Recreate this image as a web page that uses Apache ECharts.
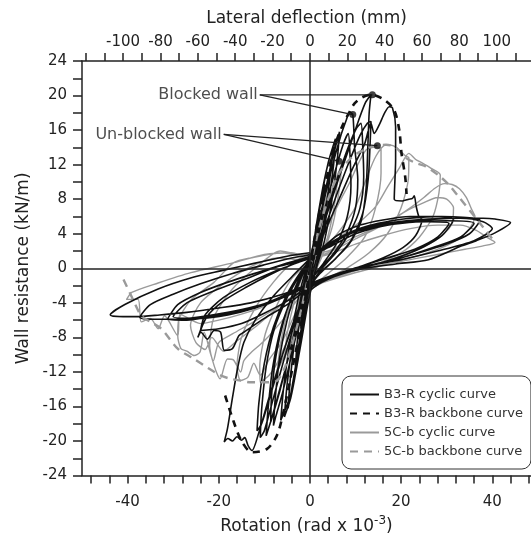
<!DOCTYPE html>
<html><head><meta charset="utf-8">
<script src="https://cdn.jsdelivr.net/npm/echarts@6/dist/echarts.min.js"></script>
<style>html,body{margin:0;padding:0;background:#fff}#c{width:531px;height:540px}</style>
</head><body><div id="c"></div>
<script>
// ---- tick values ----
const rotTicks = [-48,-44,-40,-36,-32,-28,-24,-20,-16,-12,-8,-4,0,4,8,12,16,20,24,28,32,36,40,44,48];
const rotLabels = [-40,-20,0,20,40];
const mmTicks = [-120,-110,-100,-90,-80,-70,-60,-50,-40,-30,-20,-10,0,10,20,30,40,50,60,70,80,90,100,110];
const mmLabels = [-100,-80,-60,-40,-20,0,20,40,60,80,100];
const resTicks = [-24,-22,-20,-18,-16,-14,-12,-10,-8,-6,-4,-2,0,2,4,6,8,10,12,14,16,18,20,22,24];
const resLabels = [-24,-20,-16,-12,-8,-4,0,4,8,12,16,20,24];

// ---- B3-R cyclic curve (rotation x1e-3 rad, kN/m) ----
const b3rCyclic = [
[0,0],[1,3.2],[2,6.5],[1.6,4.4],[0.8,1.6],[0,-0.8],[-1,-3.6],[-2,-7],[-1.6,-4.8],[-0.8,-1.8],[0,0.6],
[1,3.6],[2.5,8],[3.2,9.8],[2.7,7],[1.8,3.5],[0.6,0.2],[-0.8,-3.4],[-2.2,-8],[-3.2,-11.6],[-2.8,-8.6],[-1.8,-4.2],[-0.6,-0.6],[0.4,1.6],
[1.6,5.6],[3,9.8],[4.2,12.6],[5,14],[4.5,11],[3.4,6.6],[2,2.4],[0.6,-0.6],[-1,-4.6],[-2.6,-9.6],[-4,-14],[-4.8,-16.2],[-4.3,-12.8],[-3.2,-7.8],[-1.8,-3.2],[-0.4,0.4],
[1,3.2],[2.6,8.4],[4,12.2],[5.6,15],[5.2,12],[4,7.4],[2.6,3],[1,-0.6],[-0.8,-5],[-2.6,-10.6],[-4.2,-15],[-5.6,-17.2],[-5,-13.4],[-3.6,-8],[-2,-3.4],[-0.4,0.2],
[1.2,3],[3,8],[4.8,12.4],[6.5,15.8],[6,12.6],[4.8,7.8],[3.2,3.2],[1.4,0],[-0.4,-4],[-2.2,-9.4],[-4.2,-14.6],[-6.4,-17.6],[-5.8,-14],[-4.4,-8.6],[-2.6,-3.6],[-0.8,0],
[1.4,3.4],[3,7.6],[5,12],[6.8,15.4],[8,17.2],[8.7,18.1],[9.4,17.8],[9.8,14.1],[10.5,10.3],[10,7],[8,4],[5,1.6],[2,-0.2],[0,-1.6],[-2,-5.4],[-4,-10],[-6,-14.4],[-7.4,-17],[-8,-18.2],[-7.6,-15],[-6.6,-10.2],[-5,-6],[-3,-2.6],[-1,0],
[1.2,2.6],[3.2,6.8],[5.4,11],[7.2,14.2],[8.4,15.6],[8.8,13],[9,9.6],[8.2,6],[6,3],[3,0.6],[0.4,-1.2],[-2,-4.6],[-4.4,-9.6],[-6.6,-14.2],[-8.6,-17.8],[-8.4,-14.6],[-7.4,-10],[-5.6,-5.8],[-3.2,-2.2],[-1,0.2],
[1.6,2.6],[3.6,6.4],[6,10.4],[8.4,14],[10.2,16.2],[11.2,16.8],[11.6,14],[11.8,10.6],[11,7],[9,4.4],[6,2],[3,0.2],[0.6,-1.6],[-1.6,-4.4],[-4,-9],[-6.4,-13.6],[-8.4,-17.4],[-9.6,-19.4],[-9.2,-16.4],[-8.2,-11.6],[-6.4,-7],[-4,-3.4],[-1.4,-0.4],
[1,1.8],[3.2,5.4],[5.8,9.6],[8.4,13.6],[10.6,17],[12.2,19.2],[13.4,20.1],[13,18],[12.7,14],[12.3,9.1],[11.2,5.4],[8.6,2.8],[5,0.8],[2,-0.6],[-0.4,-2.2],[-3,-5.8],[-5.6,-10.4],[-8,-15],[-10,-18.8],[-10.9,-19.6],[-10.6,-16.4],[-9.6,-11.4],[-7.8,-7],[-5,-3.4],[-2,-0.6],
[1.4,2],[3.6,5.2],[6.2,9],[8.8,12.6],[11,15.4],[12.6,16.8],[13.4,17],[13.2,14.4],[12.8,10.4],[11.6,6.4],[9,3.2],[5.4,1],[2.2,-0.6],[-0.4,-2.4],[-3.2,-5.6],[-6,-10],[-8.6,-14.6],[-10.6,-18],[-11.6,-18.8],[-11.2,-15.6],[-10,-11],[-8,-6.8],[-5.2,-3.2],[-2,-0.4],
[1,1.6],[3.4,4.4],[6.4,8],[9.4,11.6],[12,14.4],[13.4,16.8],[14.1,15.6],[15.2,16.6],[16.4,18],[17.4,18.7],[18.1,18.6],[18.8,16.4],[18.8,12.6],[18.5,8.0],[20.3,7.8],[21.7,8.0],[22.5,8.1],[22.9,8.4],[23.3,7.2],[23.9,6.0],[24.6,5.65],[23.2,3.8],[20.4,2.4],[16,1.2],[11,0.2],[6,-0.8],[2,-1.8],[-1,-3.2],[-3.6,-6.4],[-6.4,-10.6],[-9,-15],[-11.2,-19],[-12.7,-21.1],[-13.5,-20.6],[-14.3,-19.6],[-15,-19.9],[-16,-19.5],[-17,-20],[-18,-19.7],[-18.8,-20.1],[-18.1,-18.6],[-17,-15],[-15.8,-11.4],[-14.5,-8.6],[-12,-6],[-8,-3.2],[-4,-1],[-1,0.6],
[2,2],[6,3.8],[11,5],[16,5.6],[22,6],[27,6],[31.5,5.65],[29,3.8],[25,2.5],[20,1.4],[14,0.4],[8,-0.4],[3,-1.4],[-1,-2.6],[-5,-4.2],[-10,-5.8],[-14.5,-7.4],[-15.6,-7.8],[-17,-9.3],[-18.8,-9.5],[-19.6,-7.4],[-21,-7.2],[-22.5,-8.2],[-23.9,-7.4],[-24.6,-8.0],[-22.6,-5.6],[-19,-3.8],[-14,-2.2],[-9,-0.8],[-4,0.4],[0,1.2],
[3,2.2],[8,3.8],[14,4.8],[20,5.3],[26,5.4],[30.5,5.2],[28,3.6],[23,2.2],[17,1.2],[11,0.2],[5,-0.8],[0,-2],[-5,-3.8],[-10,-5.2],[-15,-6.4],[-20,-7],[-24,-7.2],[-23,-5.4],[-19,-3.4],[-13,-1.6],[-7,-0.2],[-2,0.8],
[4,2.6],[9,4.2],[15,5.2],[22,5.8],[29,6],[33.5,5.9],[37.3,5.6],[35,4],[30,2.8],[24,1.8],[17,0.8],[10,0],[4,-1],[0,-1.8],[-5,-3],[-10,-4.1],[-16,-5],[-22,-5.6],[-27,-6],[-31.2,-5.9],[-29,-4.2],[-24,-2.8],[-18,-1.6],[-11,-0.4],[-5,0.6],[0,1.4],
[4,2.4],[10,4],[17,5],[24,5.4],[30,5.5],[36,5.2],[33,3.6],[27,2.4],[20,1.2],[12,0.2],[5,-0.8],[0,-1.8],[-6,-3.4],[-12,-4.6],[-18,-5.4],[-24,-5.8],[-30,-5.6],[-27,-4],[-21,-2.6],[-14,-1.2],[-7,0.2],[0,1.2],
[4,2.8],[10,4.4],[17,5.2],[25,5.6],[32,5.8],[38,5.8],[40.6,5.7],[44,5.3],[40.6,4.1],[36.5,3.2],[33.3,2.6],[26,1.0],[18.8,0.5],[12,0],[6,-0.8],[0,-2],[-6,-3.4],[-12,-4.4],[-18,-5.1],[-24,-5.6],[-30,-5.9],[-34,-5.9],[-37.3,-5.7],[-35,-4.2],[-30,-3],[-24,-1.8],[-17,-0.6],[-10,0.4],[-4,1.2],[0,1.6],
[5,3],[11,4.6],[18,5.3],[26,5.7],[33,5.8],[38,5.4],[40,4.6],[36,3.2],[28,2],[20,1],[12,0.2],[5,-1],[0,-1.8],[-6,-3],[-13,-4],[-20,-4.6],[-27,-5.1],[-33,-5.4],[-38,-5.6],[-41,-5.6],[-43.8,-5.4],[-40.6,-4.2],[-33.3,-2.4],[-26,-1.1],[-19.6,-0.3],[-12,0.6],[-5,1.4],[0,1.8]
];
const b3rBackbonePos = [[0,0],[1,3.4],[2.5,7.6],[4,11.2],[5.6,14.4],[7.2,16.6],[8.7,18.1],[9.8,19.1],[11.5,19.8],[13.4,20.1],[16.3,19.5],[18.5,18.3],[19.6,16.0],[20.1,13.3],[20.9,10.6],[21.2,8.6]];
const b3rBackboneNeg = [[0,0],[-2,-6.6],[-4,-12],[-5.8,-16.6],[-7.2,-19.3],[-9.4,-20.9],[-12.7,-21.3],[-15,-20],[-16.7,-17.8],[-18.8,-14.4]];

// ---- 5C-b cyclic curve ----
const c5bCyclic = [
[0,0],[1,2.6],[2,5],[1.5,3.2],[0.6,0.6],[-0.6,-2],[-1.6,-4.6],[-2.2,-6],[-1.6,-3.6],[-0.6,-0.8],[0.4,1],
[1.4,3.6],[3,7],[4,8.8],[3.4,6],[2.2,2.4],[0.6,-0.4],[-1,-3],[-2.6,-6.8],[-4,-9.6],[-3.4,-6.8],[-2,-2.8],[-0.4,0.2],
[1.2,2.4],[3,5.8],[5,8.8],[6,10],[5.4,7.4],[4,3.8],[2,0.8],[0,-1.2],[-2,-4.4],[-4,-8],[-5.6,-10.6],[-5,-7.6],[-3.4,-3.8],[-1.4,-0.6],[0,0.6],
[1.6,3.2],[3.6,7],[5.6,10.2],[7,12],[6.4,9],[5,5],[3,1.8],[1,-0.6],[-1.2,-3.4],[-3.6,-7.4],[-6,-10.6],[-7.2,-12],[-6.4,-8.6],[-4.6,-4.6],[-2,-1],[0,0.5],
[2,2.6],[4.4,5.4],[6.8,8],[8.7,9.9],[10.5,12],[12.3,13.7],[14,14],[15.6,13.9],[15.6,11],[14.4,7],[12,3.6],[8,1.2],[4,-0.6],[1,-2],[-2,-4.4],[-5,-8.4],[-7.4,-11.2],[-9,-12.4],[-10.9,-13.2],[-11,-11.4],[-9.8,-7.6],[-7,-4],[-4,-1.2],[-1,0.4],
[0,1.2],[3,2.2],[6,4],[8.5,5.8],[10.1,7.2],[12.4,10.4],[14.5,13],[16.7,14.3],[18.2,14.2],[19.6,13.7],[21,13],[21.7,12.8],[21.6,10.4],[20,7],[17,4],[13,1.8],[8,0],[3,-1.4],[0,-2.4],[-3,-5],[-6,-8.4],[-9,-10.6],[-10.9,-12.4],[-12.3,-11],[-13.6,-12.6],[-15.2,-13],[-16,-11.4],[-15,-8],[-12,-4.6],[-8,-1.6],[-4,0.6],[-1,1.4],
[3,2.2],[7,3.8],[11,5.4],[14.5,7.2],[17,9.4],[19.6,11.6],[21.7,13.3],[23.2,12.6],[24.6,12.2],[26.5,11.6],[28.6,10.8],[28.3,8.7],[27,6],[24,3.6],[20,1.8],[14,0.4],[8,-0.6],[3,-1.6],[-2,-3.2],[-6,-6],[-10,-8.4],[-13,-9.8],[-14.5,-10.7],[-15.2,-12],[-16.8,-10.6],[-18.1,-10.5],[-19.7,-12.8],[-21,-11.3],[-22,-9],[-21,-5.6],[-17,-2.4],[-12,0],[-6.5,2.0],[-2,1.6],
[4,2],[9,3.4],[14,4.6],[18,5.6],[22,7],[25,8.2],[27.5,9.3],[29.5,9.8],[31.2,9.7],[32.8,9.2],[34.3,8.2],[35.5,6.8],[36.2,6.0],[35,4.6],[32,3.2],[28,2.2],[22,1.2],[15,0.2],[8,-0.8],[2,-1.8],[-3,-3],[-8,-4.8],[-13,-6.4],[-17,-7.6],[-20,-8.6],[-21.2,-10.7],[-23.2,-7.4],[-24.1,-9.7],[-25.4,-10.1],[-27,-9.6],[-28.3,-9.3],[-29,-7.8],[-28.8,-6],[-26,-3.6],[-21,-1.6],[-16.7,0.65],[-13,1.2],[-6,1.8],[0,1.2],
[4,1.8],[10,3.4],[16,5],[21,6.6],[25,7.6],[28,8.2],[30,8],[31.5,7],[31,5],[28,3.4],[22,1.8],[15,0.6],[8,-0.6],[2,-1.6],[-3,-3],[-8,-5],[-12,-6.8],[-16,-8.4],[-19,-9.6],[-21.5,-8],[-23,-9.4],[-25,-8.6],[-26.2,-6.6],[-24,-4],[-19,-1.8],[-13,0.2],[-7,1.2],[-2,1],
[4,1.6],[10,2.8],[16,3.8],[22,4.6],[28,5],[33,5],[36.5,4.4],[38.8,3.6],[40.6,3.0],[38,2.6],[34,2.2],[28,1.6],[20,0.8],[12,0],[6,-0.8],[0,-2],[-5,-3],[-10,-4.4],[-15,-5.3],[-20,-6],[-24,-6.4],[-28.5,-5.3],[-29,-7.8],[-31.9,-5.5],[-33.3,-7.0],[-35,-5.8],[-37,-6.2],[-37.7,-3.6],[-40.2,-3.6],[-39.1,-2.8],[-33.3,-1.7],[-26.1,-0.5],[-16.7,0.65],[-10,1.6],[-4,1.8],[0,1]
];
const c5bBackbonePos = [[0,0],[2,4.6],[4,8],[6,10.6],[8,12.2],[10,13.2],[12.3,13.8],[14.5,14.2],[16.7,14.3],[18.8,14.0],[21,12.8],[23.2,12.2],[25.4,11.8],[28.6,10.6],[30.6,9.6],[32.6,8.3],[35.5,6.4],[38.4,4.5],[40.6,3.0]];
const c5bBackboneNeg = [[0,0],[-2,-5],[-4,-9],[-5.6,-11.6],[-7.2,-13],[-9,-13.2],[-10.9,-13.2],[-13,-13.2],[-15.2,-13],[-17.4,-12.8],[-19.6,-12.4],[-22.5,-11.5],[-25.4,-10.5],[-29,-9.3],[-32.6,-7.0],[-35,-6.2],[-37,-5.5],[-39,-3.4],[-40.9,-1.3]];

// ---- annotations ----
const annBlockedText = 'Blocked wall';
const annBlockedAnchor = [-11.0, 20.07];
const annBlockedTargets = [[13.7, 20.08], [9.4, 17.8]];
const annUnblockedText = 'Un-blocked wall';
const annUnblockedAnchor = [-18.9, 15.5];
const annUnblockedTargets = [[14.8, 14.2], [6.4, 12.4]];

const FONT = 'DejaVu Sans';
const INK = '#222';
const GRAY = '#9a9a9a';

const annLineSeries = [];
[[annBlockedAnchor, annBlockedTargets], [annUnblockedAnchor, annUnblockedTargets]].forEach(([a, ts]) => {
  ts.forEach(t => annLineSeries.push({
    type: 'line', data: [a, t], symbol: 'none', silent: true, z: 5,
    lineStyle: { color: INK, width: 1.2 }
  }));
});

const chart = echarts.init(document.getElementById('c'), null, { renderer: 'canvas' });
chart.setOption({
  animation: false,
  backgroundColor: '#fff',
  textStyle: { fontFamily: FONT, color: INK },
  grid: { left: 82, right: 0, top: 61, bottom: 63, containLabel: false },
  legend: {
    orient: 'vertical', left: 342, top: 376,
    padding: [12, 8, 11, 7], itemGap: 6, itemWidth: 29, itemHeight: 14,
    borderColor: '#333', borderWidth: 1, borderRadius: 9, backgroundColor: '#fff',
    itemStyle: { color: 'rgba(0,0,0,0)', borderWidth: 0, opacity: 0 },
    textStyle: { fontSize: 13, color: '#333', fontFamily: FONT },
    data: ['B3-R cyclic curve', 'B3-R backbone curve', '5C-b cyclic curve', '5C-b backbone curve']
  },
  xAxis: [{
    type: 'value', position: 'bottom', min: -50, max: 48.5,
    name: 'Rotation (rad x 10{sup|-3})', nameLocation: 'middle', nameGap: 38,
    nameTextStyle: { fontSize: 17, color: INK, fontFamily: FONT, rich: { sup: { fontSize: 12, padding: [0, 0, 12, 0], fontFamily: FONT, color: INK } } },
    axisLine: { show: true, onZero: false, lineStyle: { color: INK, width: 1.5 } },
    axisTick: { show: true, inside: false, length: 8, customValues: rotTicks, lineStyle: { color: INK, width: 1.5 } },
    axisLabel: { customValues: rotLabels, fontSize: 15, color: INK, margin: 19 },
    splitLine: { show: false }
  }, {
    type: 'value', position: 'top', min: -122, max: 118.34,
    name: 'Lateral deflection (mm)', nameLocation: 'middle', nameGap: 34,
    nameTextStyle: { fontSize: 17, color: INK, fontFamily: FONT },
    axisLine: { show: true, onZero: false, lineStyle: { color: INK, width: 1.5 } },
    axisTick: { show: true, inside: false, length: 8, customValues: mmTicks, lineStyle: { color: INK, width: 1.5 } },
    axisLabel: { customValues: mmLabels, fontSize: 15, color: INK, margin: 11 },
    splitLine: { show: false }
  }],
  yAxis: [{
    type: 'value', position: 'left', min: -24, max: 24,
    name: 'Wall resistance (kN/m)', nameLocation: 'middle', nameGap: 50,
    nameTextStyle: { fontSize: 17, color: INK, fontFamily: FONT },
    axisLine: { show: true, onZero: false, lineStyle: { color: INK, width: 1.5 } },
    axisTick: { show: true, inside: false, length: 9, customValues: resTicks, lineStyle: { color: INK, width: 1.5 } },
    axisLabel: { customValues: resLabels, fontSize: 15, color: INK, margin: 15 },
    splitLine: { show: false }
  }],
  series: [
    {
      name: '5C-b cyclic curve', type: 'line', data: c5bCyclic, symbol: 'none', smooth: 0.25,
      lineStyle: { color: GRAY, width: 1.4 }, itemStyle: { color: GRAY }, z: 2,
      markLine: {
        silent: true, symbol: 'none', label: { show: false }, animation: false,
        lineStyle: { color: INK, width: 1.5, type: 'solid' },
        data: [{ xAxis: 0 }, { yAxis: 0 }]
      }
    },
    {
      name: 'B3-R cyclic curve', type: 'line', data: b3rCyclic, symbol: 'none', smooth: 0.25,
      lineStyle: { color: '#111', width: 1.6 }, itemStyle: { color: '#111' }, z: 3
    },
    {
      name: '5C-b backbone curve', type: 'line', data: c5bBackbonePos, symbol: 'none', smooth: 0.3,
      lineStyle: { color: GRAY, width: 2.4, type: [8, 6] }, itemStyle: { color: GRAY }, z: 4
    },
    {
      name: '5C-b backbone curve', type: 'line', data: c5bBackboneNeg, symbol: 'none', smooth: 0.3,
      lineStyle: { color: GRAY, width: 2.4, type: [8, 6] }, itemStyle: { color: GRAY }, z: 4
    },
    {
      name: 'B3-R backbone curve', type: 'line', data: b3rBackbonePos, symbol: 'none', smooth: 0.3,
      lineStyle: { color: '#111', width: 2.6, type: [7, 6] }, itemStyle: { color: '#111' }, z: 4
    },
    {
      name: 'B3-R backbone curve', type: 'line', data: b3rBackboneNeg, symbol: 'none', smooth: 0.3,
      lineStyle: { color: '#111', width: 2.6, type: [7, 6] }, itemStyle: { color: '#111' }, z: 4
    },
    ...annLineSeries,
    {
      type: 'scatter', silent: true, z: 6, symbol: 'circle', symbolSize: 7,
      itemStyle: { color: '#111' },
      data: annBlockedTargets.concat(annUnblockedTargets)
    },
    {
      type: 'scatter', silent: true, z: 6, symbolSize: 0,
      data: [
        { value: annBlockedAnchor, name: annBlockedText },
        { value: annUnblockedAnchor, name: annUnblockedText }
      ],
      label: { show: true, position: 'left', distance: 2, formatter: '{b}', fontSize: 16, color: INK, fontFamily: FONT }
    }
  ]
});
</script>
</body></html>
